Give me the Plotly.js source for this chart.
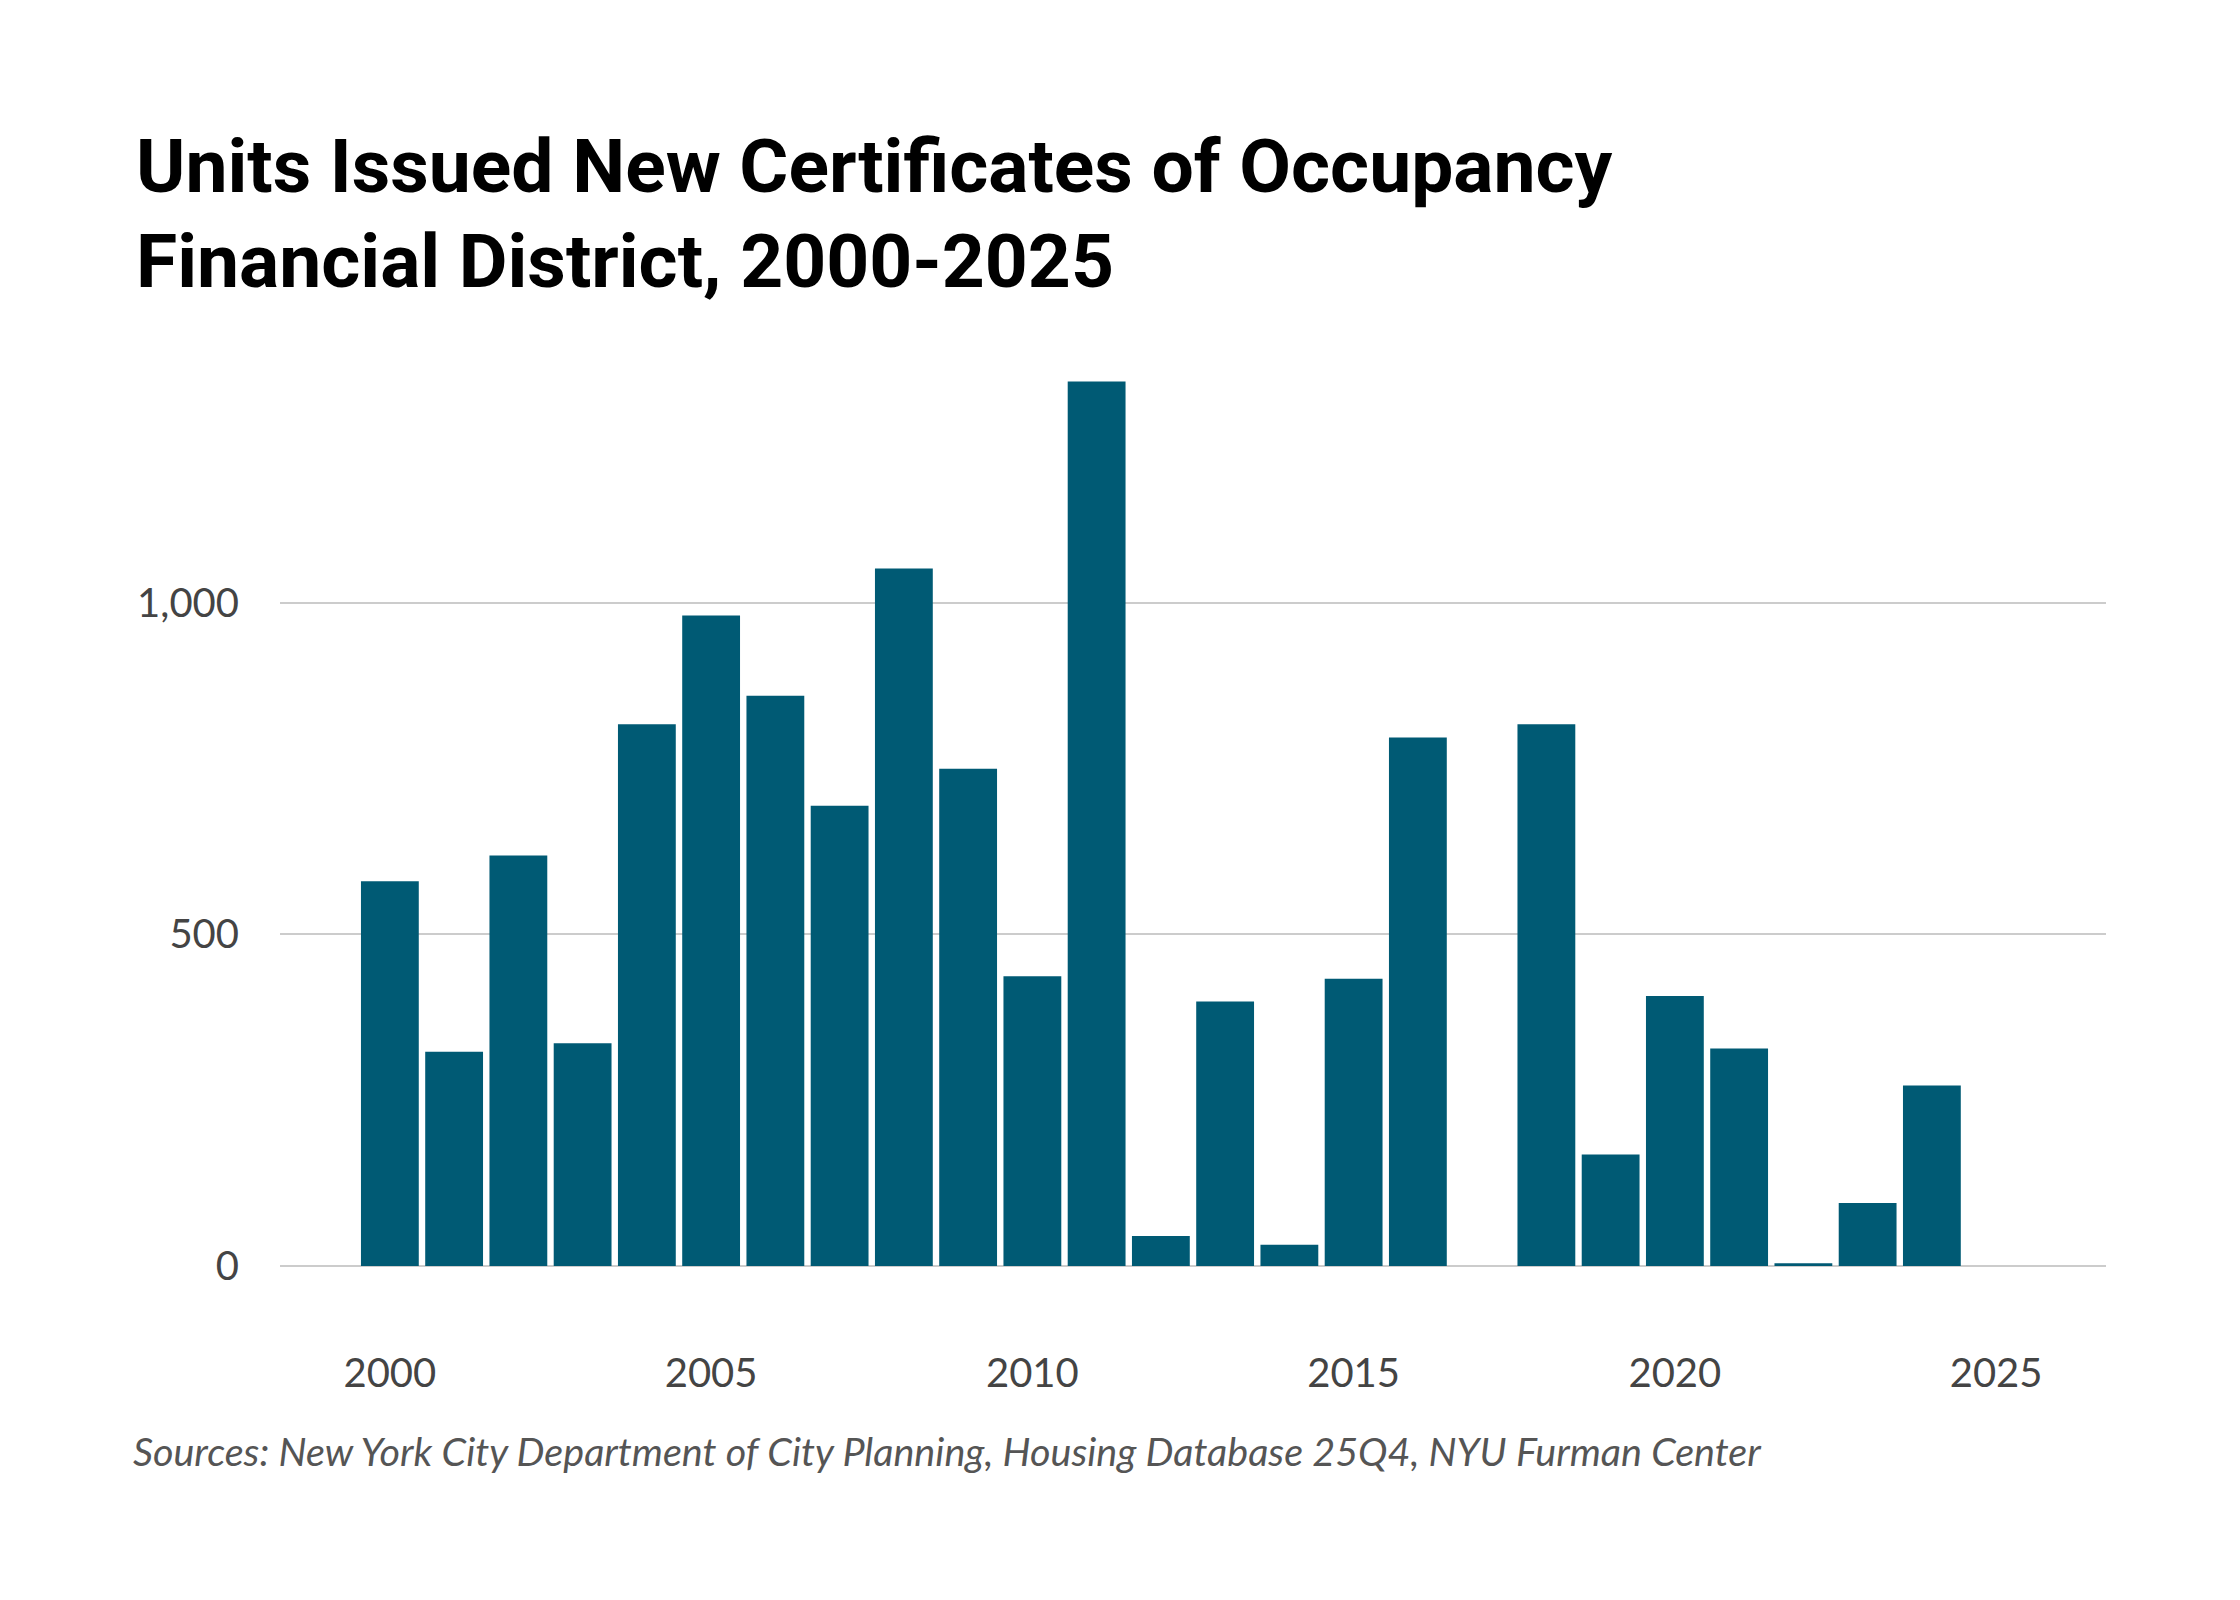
<!DOCTYPE html>
<html>
<head>
<meta charset="utf-8">
<script src="https://cdn.plot.ly/plotly-3.0.1.min.js"></script>
<style>html,body{margin:0;padding:0;background:#fff;}#chart{width:2240px;height:1600px;}</style>
</head>
<body>
<div id="chart"></div>
<script>
const years = [2000,2001,2002,2003,2004,2005,2006,2007,2008,2009,2010,2011,2012,2013,2014,2015,2016,2017,2018,2019,2020,2021,2022,2023,2024];
const units = [580,323,619,336,817,981,860,694,1052,750,437,1334,45,399,32,433,797,0,817,168,407,328,4,95,272];
const xTickVals = [2000,2005,2010,2015,2020,2025];
const xTickText = ["2000","2005","2010","2015","2020","2025"];
const yTickVals = [0,500,1000];
const yTickText = ["0","500","1,000"];
const titleLines = ["Units Issued New Certificates of Occupancy", "Financial District, 2000-2025"];
const sourceText = "Sources: New York City Department of City Planning, Housing Database 25Q4, NYU Furman Center";

const trace = {
  type: 'bar',
  x: years,
  y: units,
  marker: {color: '#005a74'},
  width: 0.9,
  hoverinfo: 'x+y'
};

const W = 2240, H = 1600, mL = 280, mR = 134, mT = 330, mB = 254;
const pw = W - mL - mR, ph = H - mT - mB;
const px = v => (v - mL) / pw;
const py = v => (H - mB - v) / ph;

const titleFont = {family: 'Roboto, sans-serif', size: 75, color: '#000000', weight: 'bold'};

const layout = {
  width: W,
  height: H,
  paper_bgcolor: '#ffffff',
  plot_bgcolor: '#ffffff',
  margin: {l: mL, r: mR, t: mT, b: mB},
  showlegend: false,
  xaxis: {
    range: [1998.29, 2026.71],
    tickvals: xTickVals,
    ticktext: xTickText,
    showgrid: false,
    zeroline: false,
    showline: false,
    ticks: '',
    tickfont: {family: 'Lato, sans-serif', size: 40, color: '#444444'},
    ticklabelstandoff: 0
  },
  yaxis: {
    range: [-120.7, 1411.5],
    tickvals: yTickVals,
    ticktext: yTickText,
    showgrid: true,
    gridcolor: '#cccccc',
    gridwidth: 2,
    zeroline: true,
    zerolinecolor: '#cccccc',
    zerolinewidth: 2,
    showline: false,
    ticks: '',
    tickfont: {family: 'Lato, sans-serif', size: 40, color: '#444444'},
    ticklabelstandoff: 40
  },
  annotations: [
    {
      text: titleLines[0],
      xref: 'paper', yref: 'paper',
      x: px(134), y: py(166),
      xanchor: 'left', yanchor: 'middle',
      showarrow: false,
      font: titleFont
    },
    {
      text: titleLines[1],
      xref: 'paper', yref: 'paper',
      x: px(134), y: py(261),
      xanchor: 'left', yanchor: 'middle',
      showarrow: false,
      font: titleFont
    },
    {
      text: sourceText,
      xref: 'paper', yref: 'paper',
      x: px(131), y: py(1450),
      xanchor: 'left', yanchor: 'middle',
      showarrow: false,
      font: {family: 'Lato, sans-serif', size: 39.5, color: '#555555', style: 'italic'}
    }
  ]
};

Plotly.newPlot('chart', [trace], layout, {displayModeBar: false, staticPlot: true});
</script>
</body>
</html>
